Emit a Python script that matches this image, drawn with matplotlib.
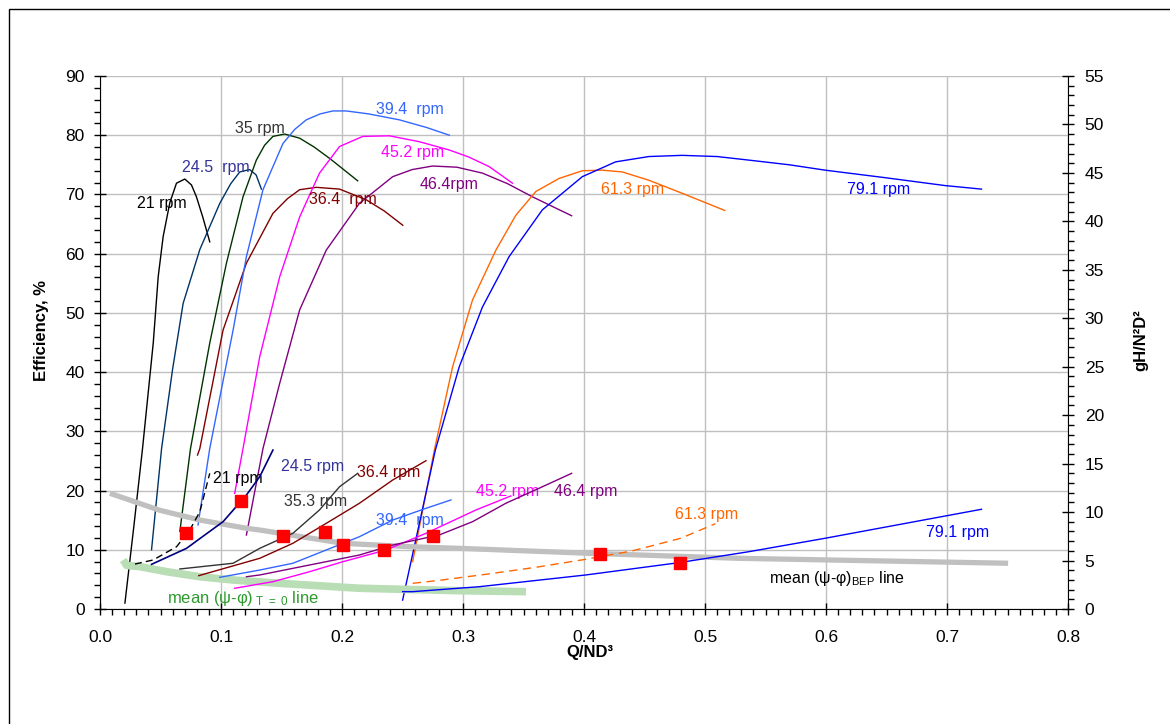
import matplotlib
matplotlib.use("Agg")
import matplotlib.pyplot as plt
from matplotlib.ticker import MultipleLocator, FormatStrFormatter
from matplotlib.patches import Rectangle

plt.rcParams['font.family'] = ['Liberation Sans', 'DejaVu Sans']
plt.rcParams['mathtext.fontset'] = 'custom'
plt.rcParams['mathtext.rm'] = 'Liberation Sans'
plt.rcParams['mathtext.it'] = 'Liberation Sans'

# efficiency curves (left axis), Q/ND^3 vs efficiency %
q_21 = [0.0206, 0.028, 0.0352, 0.044, 0.0481, 0.0522, 0.0577, 0.0632, 0.0701, 0.0756, 0.0797, 0.0852, 0.0907]
e_21 = [1.0, 14.0, 27.2, 44.9, 56.1, 62.9, 68.6, 71.9, 72.6, 71.6, 69.6, 66.0, 62.0]

q_245 = [0.0426, 0.0509, 0.0600, 0.0687, 0.0825, 0.0990, 0.1080, 0.1155, 0.1237, 0.1290, 0.1334]
e_245 = [10.0, 27.1, 40.5, 51.6, 60.7, 68.5, 71.8, 73.8, 74.2, 73.3, 70.9]

q_35 = [0.066, 0.0748, 0.0907, 0.1045, 0.1182, 0.1292, 0.1360, 0.1429, 0.1526, 0.165, 0.1770, 0.1897, 0.213]
e_35 = [13.1, 27.1, 44.9, 58.4, 69.6, 75.8, 78.3, 79.8, 80.2, 79.5, 78.0, 76.1, 72.3]

q_364 = [0.0806, 0.0825, 0.1017, 0.121, 0.1429, 0.155, 0.165, 0.1787, 0.198, 0.22, 0.2350, 0.2502]
e_364 = [26.0, 27.1, 47.1, 58.4, 66.8, 69.3, 70.8, 71.2, 70.9, 69.1, 67.2, 64.8]

q_394 = [0.081, 0.0907, 0.11, 0.121, 0.1347, 0.1512, 0.1610, 0.1705, 0.1820, 0.1924, 0.2035, 0.2220, 0.2474, 0.2700, 0.2887]
e_394 = [14.2, 27.1, 47.1, 59.5, 70.8, 78.6, 81.0, 82.6, 83.6, 84.1, 84.1, 83.6, 82.6, 81.3, 80.0]

q_452 = [0.1113, 0.1182, 0.132, 0.1485, 0.165, 0.1814, 0.198, 0.2172, 0.2392, 0.2640, 0.2887, 0.3050, 0.3216, 0.3409]
e_452 = [19.5, 27.1, 42.6, 56.1, 66.2, 73.6, 78.1, 79.8, 79.9, 78.9, 77.5, 76.3, 74.7, 71.9]

q_464 = [0.121, 0.1347, 0.1485, 0.165, 0.187, 0.2144, 0.2419, 0.2580, 0.2749, 0.2950, 0.3161, 0.3370, 0.3574, 0.3898]
e_464 = [12.5, 27.1, 38.1, 50.5, 60.6, 68.5, 73.0, 74.2, 74.8, 74.6, 73.6, 71.8, 69.6, 66.4]

q_613 = [0.2584, 0.2763, 0.2914, 0.3079, 0.3272, 0.3437, 0.3602, 0.3794, 0.3986, 0.4151, 0.4316, 0.4536, 0.4811, 0.5163]
e_613 = [8.0, 26.8, 40.9, 52.2, 60.6, 66.5, 70.5, 72.7, 74.0, 74.1, 73.8, 72.4, 70.2, 67.3]

q_791 = [0.2501, 0.2771, 0.2969, 0.3161, 0.3381, 0.3656, 0.3986, 0.4261, 0.4536, 0.4811, 0.5100, 0.5361, 0.5700, 0.5993, 0.6500, 0.6983, 0.7285]
e_791 = [1.5, 26.8, 40.9, 51.0, 59.5, 67.4, 73.0, 75.5, 76.4, 76.6, 76.4, 75.8, 75.0, 74.1, 72.8, 71.5, 70.9]

# head coefficient curves (right axis), gH/N^2D^2
hq_21 = [0.0289, 0.044, 0.0633, 0.0742, 0.0825, 0.0907]
hh_21 = [4.64, 5.06, 6.43, 8.15, 10.04, 14.0]

hq_245 = [0.0426, 0.0715, 0.1017, 0.121, 0.132, 0.1429]
hh_245 = [4.61, 6.26, 9.01, 11.76, 13.65, 16.4]

hq_353 = [0.066, 0.11, 0.132, 0.1594, 0.1814, 0.198, 0.213]
hh_353 = [4.13, 4.72, 6.26, 7.81, 10.22, 12.62, 14.0]

hq_364 = [0.0816, 0.132, 0.1594, 0.187, 0.2144, 0.2419, 0.2694]
hh_364 = [3.44, 5.23, 6.78, 8.84, 10.91, 13.31, 15.3]

hq_394 = [0.099, 0.132, 0.1594, 0.187, 0.2144, 0.2419, 0.2694, 0.29]
hh_394 = [3.27, 4.02, 4.72, 6.09, 7.46, 9.18, 10.39, 11.25]

hq_452 = [0.1113, 0.143, 0.1732, 0.2007, 0.2364, 0.2694, 0.3107, 0.3395]
hh_452 = [2.14, 2.82, 3.85, 4.88, 6.09, 7.81, 10.22, 11.66]

hq_464 = [0.121, 0.132, 0.1732, 0.2144, 0.2419, 0.2804, 0.3079, 0.3354, 0.3629, 0.3898]
hh_464 = [3.33, 3.51, 4.54, 5.57, 6.6, 7.64, 9.01, 10.91, 12.46, 14.0]

hq_613 = [0.2584, 0.28, 0.32, 0.36, 0.40, 0.44, 0.48, 0.5086]
hh_613 = [2.65, 2.95, 3.6, 4.3, 5.1, 6.0, 7.3, 8.8]

hq_791 = [0.2501, 0.2584, 0.3134, 0.4014, 0.4784, 0.5361, 0.5993, 0.7285]
hh_791 = [1.79, 1.79, 2.3, 3.51, 4.78, 5.91, 7.3, 10.29]

# best efficiency points
bep_q = [0.0707, 0.1168, 0.1512, 0.1856, 0.2007, 0.235, 0.2749, 0.4132, 0.4792]
bep_h = [7.87, 11.18, 7.53, 7.92, 6.6, 6.09, 7.53, 5.64, 4.78]

# mean (psi-phi) lines
bep_line_q = [0.0082, 0.049, 0.0825, 0.121, 0.132, 0.2007, 0.2557, 0.2969, 0.404, 0.5278, 0.7505]
bep_line_h = [11.94, 10.2, 9.18, 8.33, 8.15, 6.78, 6.43, 6.26, 5.75, 5.23, 4.72]

t0_line_q = [0.0192, 0.022, 0.033, 0.055, 0.0825, 0.11, 0.1485, 0.2144, 0.2969, 0.352]
t0_line_h = [5.06, 4.5, 4.37, 3.85, 3.33, 2.99, 2.65, 2.14, 1.89, 1.79]

fig = plt.figure(figsize=(11.7, 7.24), dpi=100)
fig.patches.append(Rectangle((9 / 1170, -0.1), 1.2, 1.1 - 9 / 724, transform=fig.transFigure,
                             fill=False, edgecolor='black', linewidth=1.0))

ax = fig.add_axes([100 / 1170, 1 - 609 / 724, 968 / 1170, 533 / 724])
ax2 = ax.twinx()

ax.set_xlim(0, 0.8)
ax.set_ylim(0, 90)
ax2.set_ylim(0, 55)

ax.grid(True, color='#C0C0C0', linewidth=1.0)
ax.set_axisbelow(True)

lw = 1.0
ax.plot(q_21, e_21, color='black', lw=lw)
ax.plot(q_245, e_245, color='#003366', lw=lw)
ax.plot(q_35, e_35, color='#003300', lw=lw)
ax.plot(q_364, e_364, color='#800000', lw=lw)
ax.plot(q_394, e_394, color='#3366FF', lw=lw)
ax.plot(q_452, e_452, color='#FF00FF', lw=lw)
ax.plot(q_464, e_464, color='#800080', lw=lw)
ax.plot(q_613, e_613, color='#FF6600', lw=lw)
ax.plot(q_791, e_791, color='#0000FF', lw=lw)

ax2.plot(t0_line_q, t0_line_h, color='#B9DDB5', lw=5.5, solid_capstyle='butt')
ax2.plot(bep_line_q, bep_line_h, color='#C0C0C0', lw=3.8, solid_capstyle='butt')
ax2.plot(hq_21, hh_21, color='black', lw=lw, dashes=(5, 3))
ax2.plot(hq_245, hh_245, color='#000080', lw=1.2)
ax2.plot(hq_353, hh_353, color='#333333', lw=lw)
ax2.plot(hq_364, hh_364, color='#800000', lw=lw)
ax2.plot(hq_394, hh_394, color='#3366FF', lw=lw)
ax2.plot(hq_452, hh_452, color='#FF00FF', lw=lw)
ax2.plot(hq_464, hh_464, color='#800080', lw=lw)
ax2.plot(hq_613, hh_613, color='#FF6600', lw=lw, dashes=(6, 4))
ax2.plot(hq_791, hh_791, color='#0000FF', lw=lw)
ax2.plot(bep_q, bep_h, linestyle='none', marker='s', markersize=8.5,
         markerfacecolor='#FF0000', markeredgecolor='#FF0000')

# curve labels
fs = 11.5
curve_labels = [
    (0.0511, 68.4, '21 rpm', 'black'),
    (0.0957, 74.6, '24.5  rpm', '#333399'),
    (0.132, 81.2, '35 rpm', '#333333'),
    (0.2557, 84.3, '39.4  rpm', '#3366FF'),
    (0.2581, 77.0, '45.2 rpm', '#FF00FF'),
    (0.2004, 69.1, '36.4  rpm', '#800000'),
    (0.2887, 71.6, '46.4rpm', '#800080'),
    (0.4404, 70.9, '61.3 rpm', '#FF6600'),
    (0.6433, 70.8, '79.1 rpm', '#0000FF'),
    (0.1138, 22.0, '21 rpm', 'black'),
    (0.1757, 24.1, '24.5 rpm', '#333399'),
    (0.1781, 18.1, '35.3 rpm', '#333333'),
    (0.2384, 23.0, '36.4 rpm', '#800000'),
    (0.2557, 15.0, '39.4  rpm', '#3366FF'),
    (0.3365, 19.9, '45.2 rpm', '#FF00FF'),
    (0.4016, 19.9, '46.4 rpm', '#800080'),
    (0.5014, 16.0, '61.3 rpm', '#FF6600'),
    (0.7085, 13.0, '79.1 rpm', '#0000FF'),
]
for x, y, s, c in curve_labels:
    ax.text(x, y, s, color=c, fontsize=fs, ha='center', va='center', zorder=5)

ax.text(0.6087, 5.2, r'mean (ψ-φ)$_{\mathrm{BEP}}$ line', color='black', fontsize=fs,
        ha='center', va='center', zorder=5)
ax.text(0.1179, 1.7, r'mean (ψ-φ)$_{\mathrm{\ T\ =\ 0}}$ line', color='#2E9B2E', fontsize=12,
        ha='center', va='center', zorder=5)

# axes styling
for a in (ax, ax2):
    a.spines['top'].set_visible(False)
ax.spines['right'].set_visible(False)
ax2.spines['left'].set_visible(False)
ax2.spines['bottom'].set_visible(False)

ax.xaxis.set_major_locator(MultipleLocator(0.1))
ax.xaxis.set_minor_locator(MultipleLocator(0.01))
ax.xaxis.set_major_formatter(FormatStrFormatter('%.1f'))
ax.yaxis.set_major_locator(MultipleLocator(10))
ax.yaxis.set_minor_locator(MultipleLocator(2))
ax2.yaxis.set_major_locator(MultipleLocator(5))
ax2.yaxis.set_minor_locator(MultipleLocator(1))

ax.tick_params(axis='both', which='major', direction='inout', length=8, width=1, labelsize=12.5)
ax.tick_params(axis='x', which='major', pad=11)
ax.tick_params(axis='y', which='major', pad=7)
ax.tick_params(axis='both', which='minor', direction='out', length=4, width=1)
ax2.tick_params(axis='y', which='major', direction='inout', length=8, width=1, labelsize=12.5, pad=8)
ax2.tick_params(axis='y', which='minor', direction='out', length=4, width=1)

ax.set_xlabel('Q/ND³', fontsize=12, fontweight='bold')
ax.set_ylabel('Efficiency, %', fontsize=12, fontweight='bold')
ax2.set_ylabel('gH/N²D²', fontsize=12, fontweight='bold')
ax.xaxis.set_label_coords(0.506, -0.067)
ax.yaxis.set_label_coords(-0.053, 0.522)
ax2.yaxis.set_label_coords(1.068, 0.505)

fig.savefig('out.png', dpi=100)
